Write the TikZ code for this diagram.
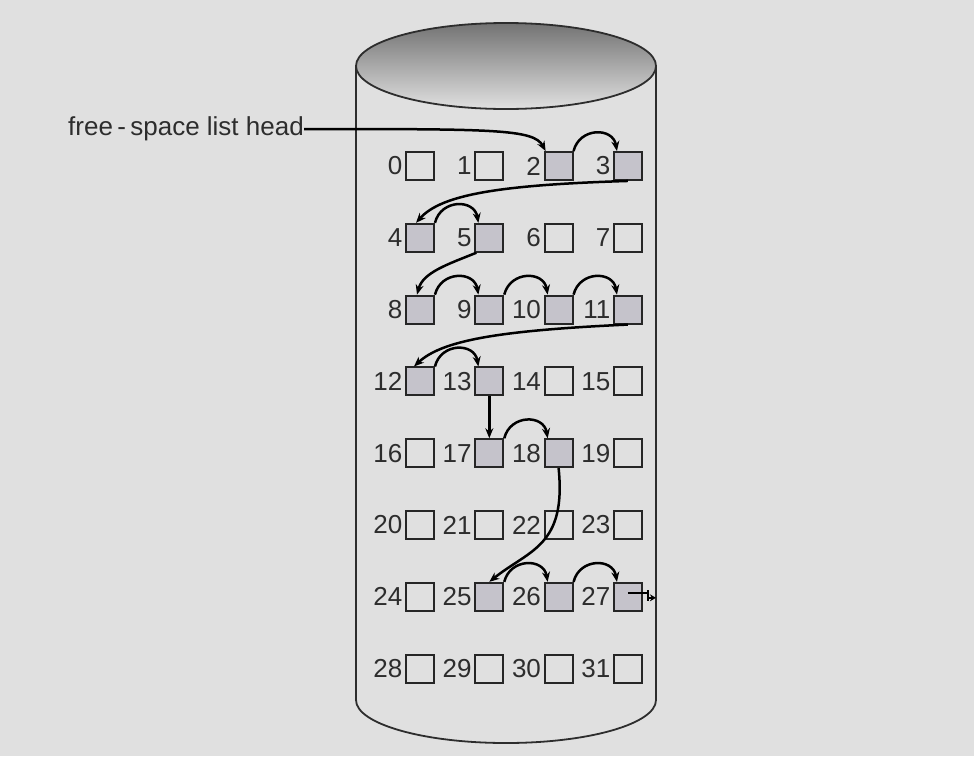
\documentclass[tikz,border=0pt]{standalone}
\usepackage{fontspec}
\setmainfont{Liberation Sans}
\usetikzlibrary{arrows.meta}
\definecolor{bg}{RGB}{224,224,224}
\definecolor{freegray}{RGB}{197,195,203}
\definecolor{ink}{RGB}{45,45,45}
\tikzset{
  blk/.style={draw=black!85, line width=1.9pt, minimum size=28pt, inner sep=0pt},
  lbl/.style={anchor=east, inner sep=2.5pt, text=ink, font=\fontsize{26}{30}\selectfont},
  link/.style={line width=2.5pt, -{Stealth[length=10pt,width=8pt]}},
}
\begin{document}
\begin{tikzpicture}[x=1pt, y=-1pt]
\useasboundingbox[fill=bg] (0,0) rectangle (974,756);
% disk
\draw[ink, line width=1.8pt] (356,66) -- (356,700) arc[start angle=180, end angle=0, x radius=150, y radius=43] -- (656,66);
\shade[top color=black!55, bottom color=black!12, draw=ink, line width=1.8pt] (506,66) ellipse[x radius=150, y radius=43];
% blocks
\foreach \n in {0,...,31}{
  \gdef\fillc{none}
  \foreach \f in {2,3,4,5,8,9,10,11,12,13,17,18,25,26,27}{\ifnum\n=\f\relax\gdef\fillc{freegray}\fi}
  \pgfmathtruncatemacro\col{mod(\n,4)}
  \pgfmathtruncatemacro\row{div(\n,4)}
  \node[blk, fill=\fillc] (b\n) at (420+69.3*\col, 166+71.8*\row) {};
  \node[lbl] (l\n) at (b\n.west) {\n};
}
% list head
\node[lbl, inner sep=0pt] (head) at (304,129) {free\,-\,space list head};
\draw[link] (head.east) .. controls +(190,0) and +(-12,-22) .. ([xshift=2pt]b2.north west);
% hops to the next block
\foreach \a/\b in {2/3,4/5,8/9,9/10,10/11,12/13,17/18,25/26,26/27}
  \draw[link] (b\a.north east) .. controls +(6,-24) and +(-4,-24) .. ([xshift=4pt]b\b.north west);
% jumps to the next row
\draw[link] (b3.south) .. controls +(-130,4) and +(25,-28) .. ([xshift=-4pt]b4.north);
\draw[link] ([xshift=2pt]b5.south west) .. controls +(-30,12) and +(6,-22) .. ([xshift=-3pt]b8.north);
\draw[link] (b11.south) .. controls +(-130,6) and +(28,-26) .. ([xshift=-6pt]b12.north);
\draw[link] (b13.south) -- (b17.north);
\draw[link] (b18.south) .. controls +(8,78) and +(40,-32) .. (b25.north);
% end of list
\coordinate (tail) at ([yshift=4pt]b27.center);
\draw[line width=1.8pt] (tail) -- ++(20,0) coordinate (tend);
\draw[line width=1.8pt] ([yshift=-8pt]tend) -- ([yshift=3pt]tend);
\draw[line width=1.8pt, -{Stealth[length=6pt,width=7pt]}] ([yshift=-5pt]tend) -- ++(8,0);
\end{tikzpicture}
\end{document}
